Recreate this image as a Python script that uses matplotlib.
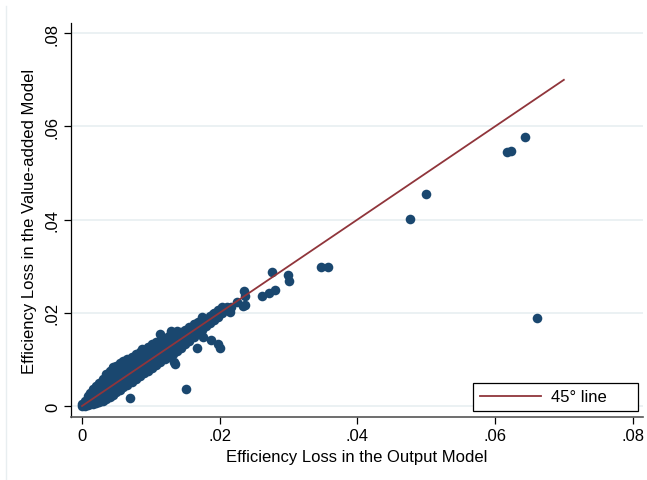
import matplotlib
matplotlib.use("Agg")
import matplotlib.pyplot as plt
from matplotlib.lines import Line2D

plt.rcParams['font.family'] = ['Liberation Sans', 'DejaVu Sans']

# dense band near the origin (output model loss, value-added model loss)
band_x = [0.0000, 0.0000,
          0.0004, 0.0004,
          0.0008, 0.0008, 0.0008,
          0.0012, 0.0012, 0.0012,
          0.0016, 0.0016, 0.0016, 0.0016,
          0.0020, 0.0020, 0.0020, 0.0020,
          0.0025, 0.0025, 0.0025, 0.0025, 0.0025,
          0.0030, 0.0030, 0.0030, 0.0030, 0.0030,
          0.0035, 0.0035, 0.0035, 0.0035, 0.0035, 0.0035,
          0.0040, 0.0040, 0.0040, 0.0040, 0.0040, 0.0040,
          0.0045, 0.0045, 0.0045, 0.0045, 0.0045, 0.0045,
          0.0050, 0.0050, 0.0050, 0.0050, 0.0050, 0.0050,
          0.0055, 0.0055, 0.0055, 0.0055, 0.0055, 0.0055,
          0.0060, 0.0060, 0.0060, 0.0060, 0.0060, 0.0060,
          0.0066, 0.0066, 0.0066, 0.0066, 0.0066, 0.0066,
          0.0072, 0.0072, 0.0072, 0.0072, 0.0072, 0.0072,
          0.0078, 0.0078, 0.0078, 0.0078, 0.0078, 0.0078,
          0.0084, 0.0084, 0.0084, 0.0084, 0.0084, 0.0084,
          0.0090, 0.0090, 0.0090, 0.0090, 0.0090, 0.0090,
          0.0096, 0.0096, 0.0096, 0.0096, 0.0096, 0.0096,
          0.0102, 0.0102, 0.0102, 0.0102, 0.0102, 0.0102,
          0.0108, 0.0108, 0.0108, 0.0108, 0.0108, 0.0108,
          0.0114, 0.0114, 0.0114, 0.0114, 0.0114,
          0.0120, 0.0120, 0.0120, 0.0120, 0.0120,
          0.0126, 0.0126, 0.0126, 0.0126, 0.0126,
          0.0132, 0.0132, 0.0132, 0.0132, 0.0132,
          0.0138, 0.0138, 0.0138, 0.0138, 0.0138,
          0.0144, 0.0144, 0.0144, 0.0144,
          0.0150, 0.0150, 0.0150, 0.0150,
          0.0156, 0.0156, 0.0156, 0.0156,
          0.0162, 0.0162, 0.0162, 0.0162,
          0.0168, 0.0168, 0.0168, 0.0168,
          0.0174, 0.0174, 0.0174, 0.0174,
          0.0180, 0.0180, 0.0180,
          0.0186, 0.0186, 0.0186,
          0.0192, 0.0192, 0.0192,
          0.0198, 0.0198, 0.0198,
          0.0204, 0.0204,
          0.0210, 0.0210,
          0.0216]
band_y = [0.0000, 0.0004,
          0.0001, 0.0010,
          0.0003, 0.0012, 0.0021,
          0.0004, 0.0015, 0.0028,
          0.0005, 0.0016, 0.0027, 0.0036,
          0.0007, 0.0018, 0.0030, 0.0042,
          0.0008, 0.0019, 0.0031, 0.0042, 0.0050,
          0.0011, 0.0022, 0.0034, 0.0046, 0.0058,
          0.0014, 0.0026, 0.0038, 0.0050, 0.0062, 0.0068,
          0.0019, 0.0030, 0.0042, 0.0054, 0.0066, 0.0076,
          0.0024, 0.0035, 0.0047, 0.0059, 0.0071, 0.0081,
          0.0029, 0.0040, 0.0052, 0.0064, 0.0076, 0.0086,
          0.0034, 0.0045, 0.0057, 0.0069, 0.0081, 0.0092,
          0.0040, 0.0051, 0.0062, 0.0073, 0.0085, 0.0097,
          0.0046, 0.0057, 0.0068, 0.0079, 0.0090, 0.0101,
          0.0052, 0.0063, 0.0074, 0.0085, 0.0096, 0.0105,
          0.0058, 0.0069, 0.0080, 0.0091, 0.0102, 0.0111,
          0.0064, 0.0075, 0.0086, 0.0097, 0.0108, 0.0116,
          0.0070, 0.0081, 0.0092, 0.0103, 0.0114, 0.0121,
          0.0076, 0.0087, 0.0098, 0.0109, 0.0120, 0.0127,
          0.0082, 0.0093, 0.0104, 0.0115, 0.0126, 0.0132,
          0.0088, 0.0099, 0.0110, 0.0121, 0.0132, 0.0138,
          0.0094, 0.0105, 0.0116, 0.0127, 0.0140,
          0.0100, 0.0111, 0.0122, 0.0133, 0.0145,
          0.0106, 0.0117, 0.0128, 0.0139, 0.0150,
          0.0112, 0.0123, 0.0134, 0.0145, 0.0155,
          0.0118, 0.0129, 0.0140, 0.0151, 0.0160,
          0.0125, 0.0136, 0.0147, 0.0158,
          0.0132, 0.0143, 0.0154, 0.0164,
          0.0140, 0.0151, 0.0161, 0.0170,
          0.0148, 0.0159, 0.0168, 0.0176,
          0.0156, 0.0166, 0.0175, 0.0181,
          0.0163, 0.0172, 0.0180, 0.0187,
          0.0171, 0.0179, 0.0187,
          0.0178, 0.0186, 0.0193,
          0.0185, 0.0193, 0.0199,
          0.0192, 0.0200, 0.0206,
          0.0199, 0.0207,
          0.0206, 0.0213,
          0.0212]

# scattered points away from the band
out_x = [0.0113, 0.0130, 0.0135, 0.0133, 0.0151, 0.0069, 0.0045, 0.0087,
         0.0176, 0.0188, 0.0198, 0.0200, 0.0167, 0.0142, 0.0164, 0.0174,
         0.0191, 0.0203, 0.0215, 0.0225, 0.0237, 0.0234, 0.0236, 0.0237,
         0.0261, 0.0271, 0.0280, 0.0276, 0.0299, 0.0300, 0.0347, 0.0358,
         0.0477, 0.0500, 0.0617, 0.0623, 0.0643, 0.0661]
out_y = [0.0155, 0.0162, 0.0091, 0.0094, 0.0037, 0.0018, 0.0084, 0.0123,
         0.0148, 0.0141, 0.0134, 0.0124, 0.0124, 0.0127, 0.0176, 0.0191,
         0.0198, 0.0212, 0.0201, 0.0223, 0.0216, 0.0214, 0.0247, 0.0237,
         0.0236, 0.0243, 0.0248, 0.0287, 0.0281, 0.0269, 0.0298, 0.0298,
         0.0401, 0.0455, 0.0545, 0.0548, 0.0578, 0.0189]

line_x = [0, 0.07]
line_y = [0, 0.07]

ticks = [0, 0.02, 0.04, 0.06, 0.08]
tick_labels = ['0', '.02', '.04', '.06', '.08']

navy = '#1a476f'
maroon = '#90353b'

fig = plt.figure(figsize=(6.47, 4.81), dpi=100)
ax = fig.add_axes([71/647, (481-418)/481, (643-71)/647, (418-24)/481])

for t in ticks:
    ax.axhline(t, color='#e8eff1', lw=1.2, zorder=0)

ax.scatter(band_x + out_x, band_y + out_y, s=48, color=navy,
           edgecolors=navy, linewidths=0, zorder=2)
ax.plot(line_x, line_y, color=maroon, lw=1.3, zorder=3, label='45° line')

ax.set_xlim(-0.0016, 0.0815)
ax.set_ylim(-0.00236, 0.0822)
ax.set_xticks(ticks)
ax.set_xticklabels(tick_labels)
ax.set_yticks(ticks)
ax.set_yticklabels(tick_labels, rotation=90, va='center')
ax.tick_params(axis='both', labelsize=12, length=5, width=0.9, direction='out', pad=3)

ax.spines['top'].set_visible(False)
ax.spines['right'].set_visible(False)
ax.spines['left'].set_color('black')
ax.spines['left'].set_linewidth(0.9)
ax.spines['bottom'].set_color('#555555')
ax.spines['bottom'].set_linewidth(1.2)

ax.set_xlabel('Efficiency Loss in the Output Model', fontsize=12, labelpad=4)
ax.set_ylabel('Efficiency Loss in the Value-added Model', fontsize=12, labelpad=6)

leg = ax.legend(loc='lower left', mode='expand', borderaxespad=0,
                bbox_to_anchor=((473-71)/572, 6/394, 165/572, 30/394),
                fontsize=12, handlelength=3.7, handletextpad=0.6,
                fancybox=False, framealpha=1, edgecolor='black')
leg.get_frame().set_linewidth(0.9)

# faint outer graph border on the left
fig.add_artist(Line2D([6/647, 6/647], [0, (481-7)/481], transform=fig.transFigure,
                      color='#e8eef0', lw=1))

fig.savefig('out.png', dpi=100)
